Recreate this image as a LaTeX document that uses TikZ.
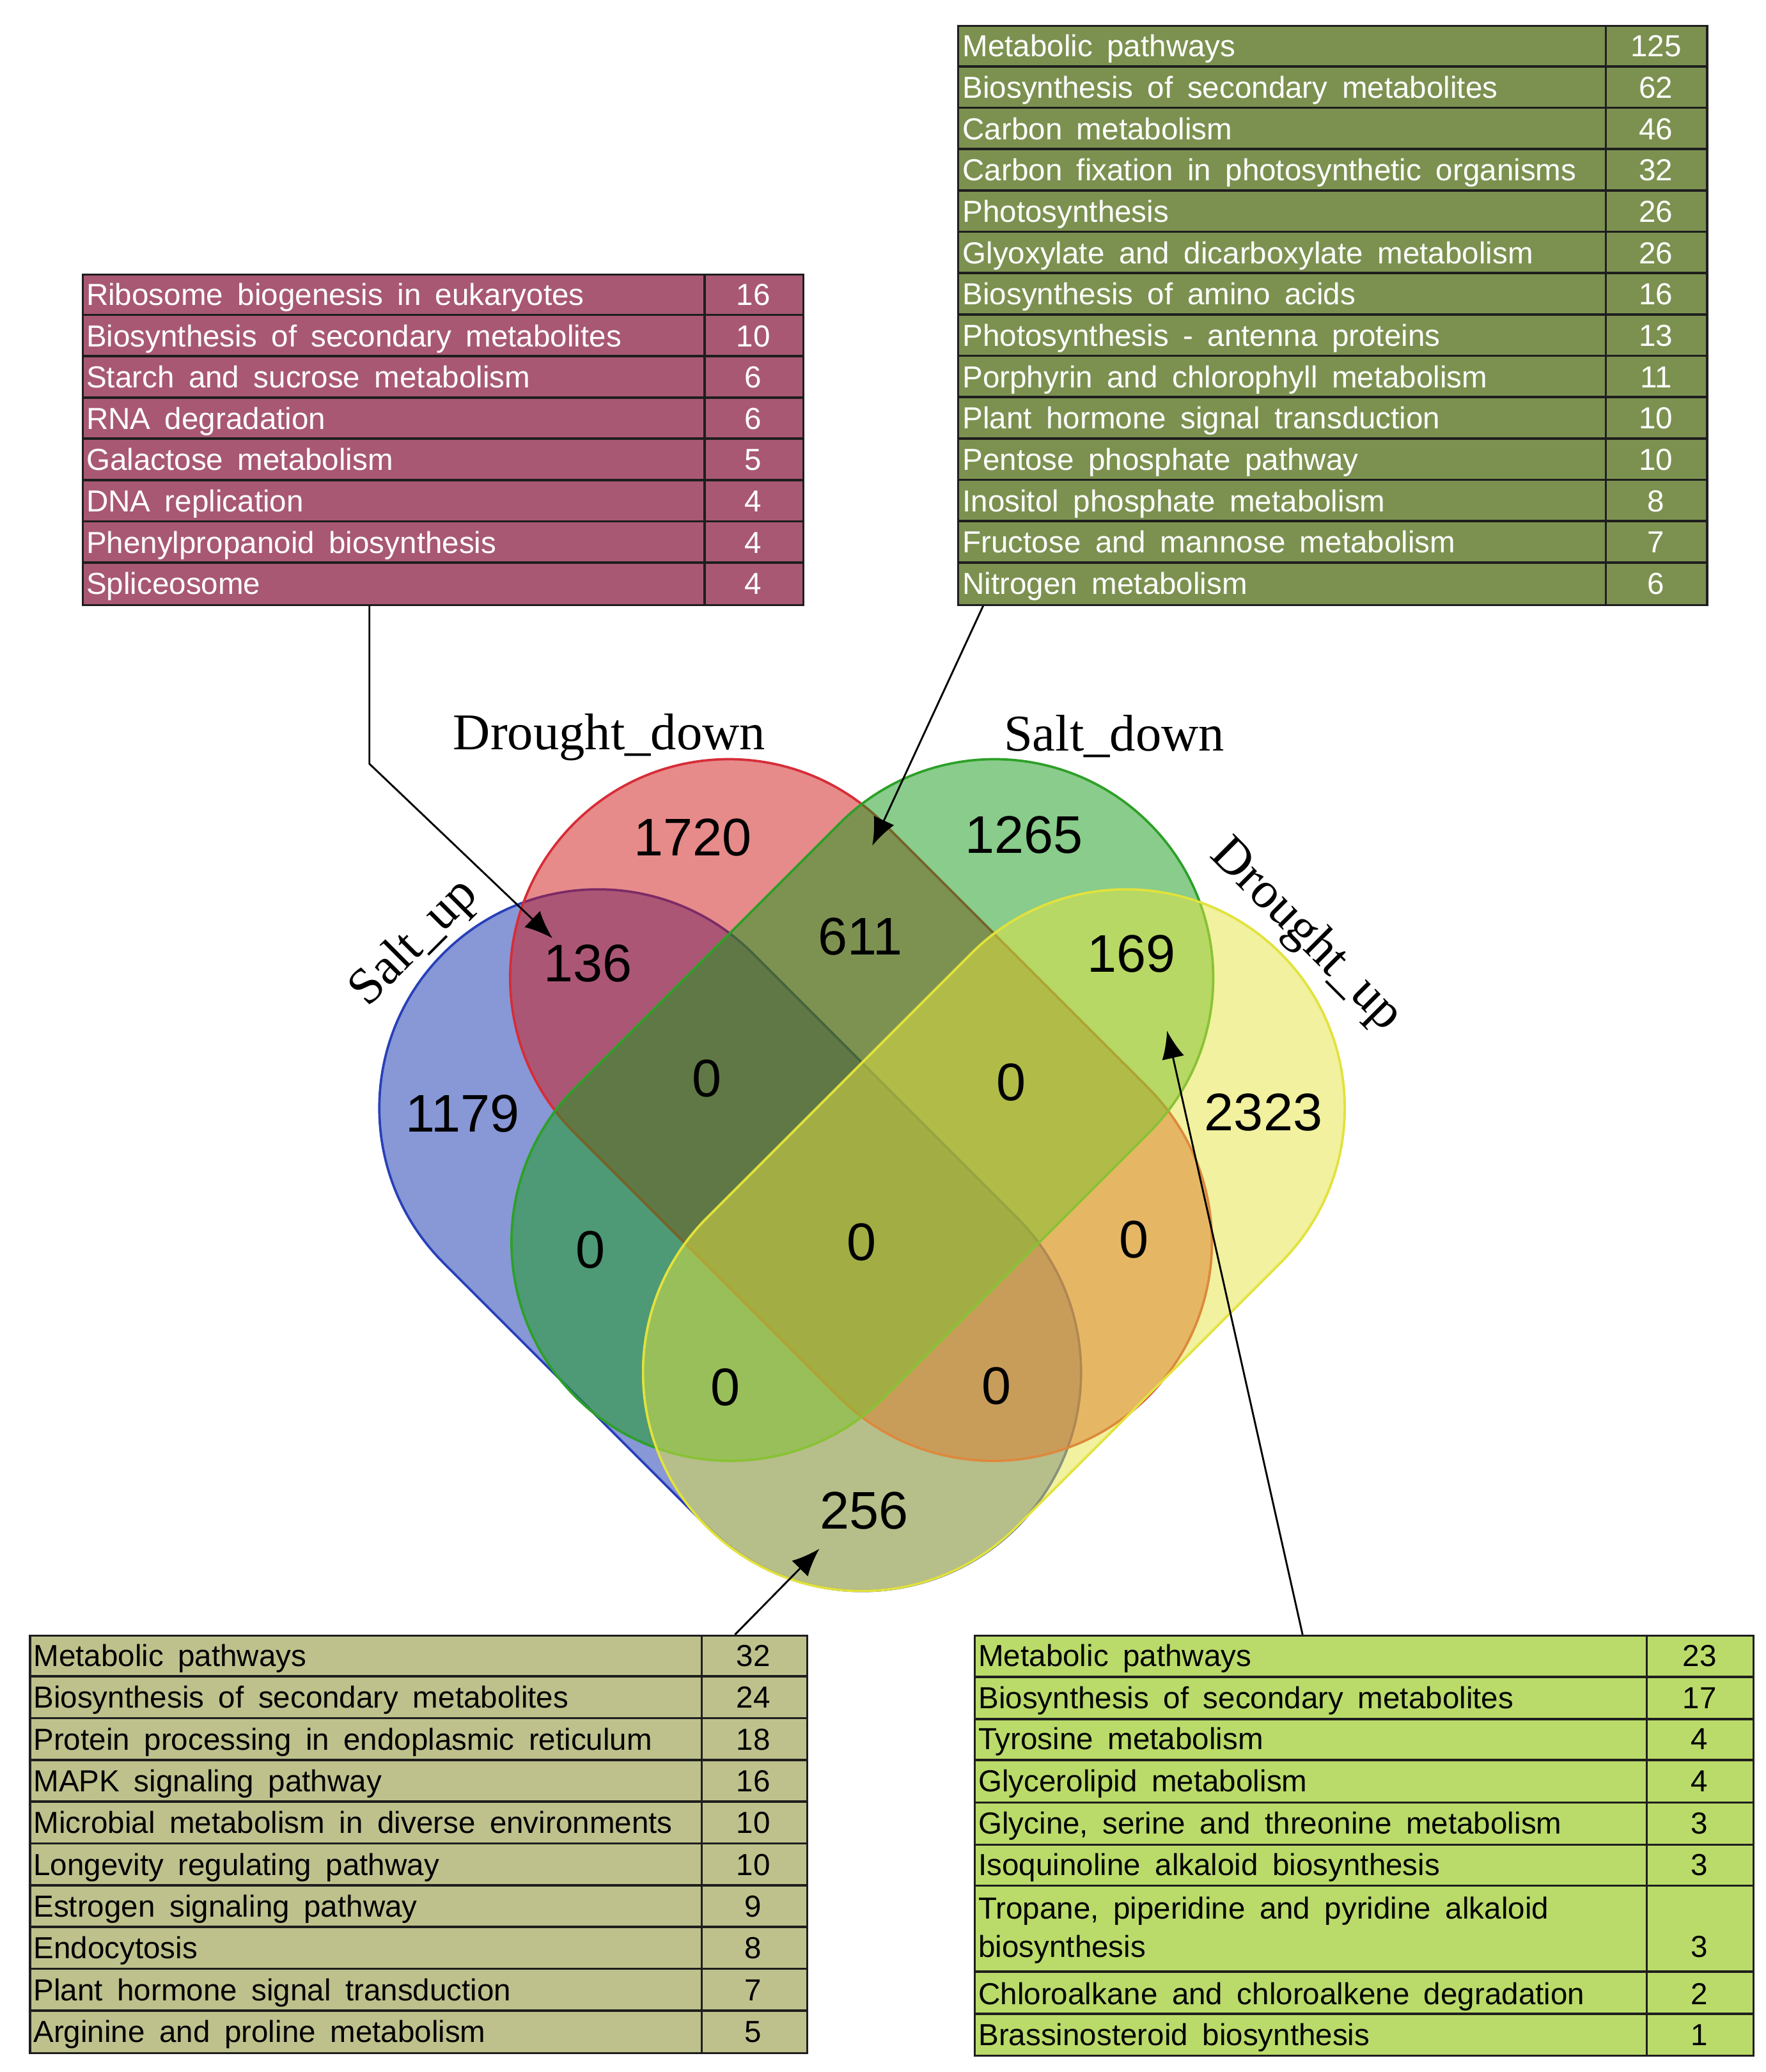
\documentclass[tikz,border=0pt]{standalone}
\usepackage{fontspec}
\setmainfont{Liberation Serif}
\setsansfont{Liberation Sans}
\newfontfamily\tabfont{Liberation Sans}[WordSpace=1.7]
\usetikzlibrary{arrows.meta,calc}
\definecolor{cBlue}{RGB}{19,49,173}
\definecolor{cRed}{RGB}{209,23,23}
\definecolor{cGreen}{RGB}{21,155,25}
\definecolor{cYellow}{RGB}{229,229,65}
\definecolor{oBlue}{RGB}{40,64,185}
\definecolor{oRed}{RGB}{214,45,55}
\definecolor{oGreen}{RGB}{45,160,40}
\definecolor{oYellow}{RGB}{226,226,60}
\definecolor{tPink}{RGB}{168,88,115}
\definecolor{tOlive}{RGB}{124,145,80}
\definecolor{tKhaki}{RGB}{190,193,140}
\definecolor{tLime}{RGB}{186,219,106}
\definecolor{ruleC}{RGB}{30,30,30}
\def\pxu{0.02cm}
\tikzset{
  tbl/.style={draw=ruleC, line width=1.5*\pxu, inner sep=0pt, anchor=north west},
  rowline/.style={draw=ruleC, line width=1.8*\pxu},
  rowtxt/.style={font=\tabfont\fontsize{13.1}{15.7}\selectfont, anchor=base west, inner sep=0pt},
  rownum/.style={font=\tabfont\fontsize{13.1}{15.7}\selectfont, anchor=base, inner sep=0pt},
  vnum/.style={font=\sffamily\fontsize{22.8}{27}\selectfont, inner sep=0pt},
  vlab/.style={font=\rmfamily\fontsize{22.2}{26}\selectfont, inner sep=0pt},
  setshape/.style={fill opacity=0.5, draw opacity=1, line width=1.8*\pxu},
  arr/.style={draw=black, line width=1.4*\pxu, -{Latex[length=21*\pxu, width=17*\pxu]}},
}
% capsule: half straight length 141.4, radius 165.5 (picture units)
\newcommand\capsulepath{(-141.4,-165.5) -- (141.4,-165.5) arc[start angle=-90, end angle=90, radius=165.5] -- (-141.4,165.5) arc[start angle=90, end angle=270, radius=165.5] -- cycle}
\begin{document}
\begin{tikzpicture}[x=0.02cm,y=-0.02cm]
\useasboundingbox (0,0) rectangle (1336,1568);
\fill[white] (0,0) rectangle (1336,1568);

% ---------- Venn diagram (four capsules) ----------
\begin{scope}[shift={(552.5,938.5)}, rotate=-45]
  \filldraw[setshape, fill=cBlue, draw=oBlue] \capsulepath;
\end{scope}
\begin{scope}[shift={(651.5,840)}, rotate=-45]
  \filldraw[setshape, fill=cRed, draw=oRed] \capsulepath;
\end{scope}
\begin{scope}[shift={(652.5,840)}, rotate=45]
  \filldraw[setshape, fill=cGreen, draw=oGreen] \capsulepath;
\end{scope}
\begin{scope}[shift={(752,938.5)}, rotate=45]
  \filldraw[setshape, fill=cYellow, draw=oYellow] \capsulepath;
\end{scope}

\node[vnum] (n1720) at (524,634) {1720};
\node[vnum] (n1265) at (775,632) {1265};
\node[vnum] (n136) at (445,729) {136};
\node[vnum] (n611) at (651,709) {611};
\node[vnum] (n169) at (856,722) {169};
\node[vnum] (n1179) at (350,843) {1179};
\node[vnum] (n2323) at (956,842) {2323};
\node[vnum] (z1) at (535,816) {0};
\node[vnum] (z2) at (765,819) {0};
\node[vnum] (z3) at (447,946) {0};
\node[vnum] (z4) at (652,940) {0};
\node[vnum] (z5) at (858,938) {0};
\node[vnum] (z6) at (549,1050) {0};
\node[vnum] (z7) at (754,1049) {0};
\node[vnum] (n256) at (654,1143) {256};

\node[vlab] (lDd) at (461,558) {Drought\_down};
\node[vlab] (lSd) at (843,557) {Salt\_down};
\node[vlab, rotate=45] (lSu) at (314,714) {Salt\_up};
\node[vlab, rotate=-45] (lDu) at (988,708) {Drought\_up};

% ---------- Pink table ----------
\node[tbl, fill=tPink, minimum width=545*\pxu, minimum height=250*\pxu] (pinkT) at (62,207) {};
\foreach \k in {1,...,7} \draw[rowline] (62,{207+\k*31.25}) -- (607,{207+\k*31.25});
\draw[rowline] (533,207) -- (533,457);
\foreach [count=\i] \lbl/\val in {Ribosome biogenesis in eukaryotes/16, Biosynthesis of secondary metabolites/10, Starch and sucrose metabolism/6, RNA degradation/6, Galactose metabolism/5, DNA replication/4, Phenylpropanoid biosynthesis/4, Spliceosome/4}{
  \node[rowtxt, text=white] (pkT\i) at (65,{207+(\i-1)*31.25+24}) {\lbl};
  \node[rownum, text=white] (pkN\i) at (570,{207+(\i-1)*31.25+24}) {\val};
}

% ---------- Olive table ----------
\node[tbl, fill=tOlive, minimum width=567*\pxu, minimum height=438*\pxu] (oliveT) at (724,19) {};
\foreach \k in {1,...,13} \draw[rowline] (724,{19+\k*31.2857}) -- (1291,{19+\k*31.2857});
\draw[rowline] (1215,19) -- (1215,457);
\foreach [count=\i] \lbl/\val in {Metabolic pathways/125, Biosynthesis of secondary metabolites/62, Carbon metabolism/46, Carbon fixation in photosynthetic organisms/32, Photosynthesis/26, Glyoxylate and dicarboxylate metabolism/26, Biosynthesis of amino acids/16, Photosynthesis - antenna proteins/13, Porphyrin and chlorophyll metabolism/11, Plant hormone signal transduction/10, Pentose phosphate pathway/10, Inositol phosphate metabolism/8, Fructose and mannose metabolism/7, Nitrogen metabolism/6}{
  \node[rowtxt, text=white] (olT\i) at (728,{19+(\i-1)*31.2857+24}) {\lbl};
  \node[rownum, text=white] (olN\i) at (1253,{19+(\i-1)*31.2857+24}) {\val};
}

% ---------- Khaki table ----------
\node[tbl, fill=tKhaki, minimum width=588*\pxu, minimum height=316*\pxu] (khakiT) at (22,1237) {};
\foreach \k in {1,...,9} \draw[rowline] (22,{1237+\k*31.6}) -- (610,{1237+\k*31.6});
\draw[rowline] (531,1237) -- (531,1553);
\foreach [count=\i] \lbl/\val in {Metabolic pathways/32, Biosynthesis of secondary metabolites/24, Protein processing in endoplasmic reticulum/18, MAPK signaling pathway/16, Microbial metabolism in diverse environments/10, Longevity regulating pathway/10, Estrogen signaling pathway/9, Endocytosis/8, Plant hormone signal transduction/7, Arginine and proline metabolism/5}{
  \node[rowtxt] (khT\i) at (25,{1237+(\i-1)*31.6+24}) {\lbl};
  \node[rownum] (khN\i) at (570,{1237+(\i-1)*31.6+24}) {\val};
}

% ---------- Lime table ----------
\node[tbl, fill=tLime, minimum width=589*\pxu, minimum height=318*\pxu] (limeT) at (737,1237) {};
\foreach \yy in {1269,1301,1332,1364,1396,1427,1492,1524} \draw[rowline] (737,\yy) -- (1326,\yy);
\draw[rowline] (1246,1237) -- (1246,1555);
\foreach [count=\i] \lbl/\val/\yb in {Metabolic pathways/23/1261, Biosynthesis of secondary metabolites/17/1293, Tyrosine metabolism/4/1324, Glycerolipid metabolism/4/1356, {Glycine, serine and threonine metabolism}/3/1388, Isoquinoline alkaloid biosynthesis/3/1419, biosynthesis/3/1481, Chloroalkane and chloroalkene degradation/2/1517, Brassinosteroid biosynthesis/1/1548}{
  \node[rowtxt] (lmT\i) at (740,\yb) {\lbl};
  \node[rownum] (lmN\i) at (1286,\yb) {\val};
}
\node[rowtxt] (lmT0) at (740,1452) {Tropane, piperidine and pyridine alkaloid};

% ---------- connectors ----------
\coordinate (s1) at ($(pinkT.south west)!0.398!(pinkT.south east)$);
\coordinate (b1) at (279,578);
\coordinate (t1) at (418,710);
\draw[arr] (s1) -- (s1 |- b1) -- (t1);

\coordinate (s2) at ($(oliveT.south west)!0.035!(oliveT.south east)$);
\coordinate (t2) at (660,640);
\draw[arr] (s2) -- (t2);

\coordinate (s3) at ($(khakiT.north west)!0.906!(khakiT.north east)$);
\coordinate (t3) at (620,1172);
\draw[arr] (s3) -- (t3);

\coordinate (s4) at ($(limeT.north west)!0.421!(limeT.north east)$);
\coordinate (t4) at (883,780);
\draw[arr] (s4) -- (t4);
\end{tikzpicture}
\end{document}
